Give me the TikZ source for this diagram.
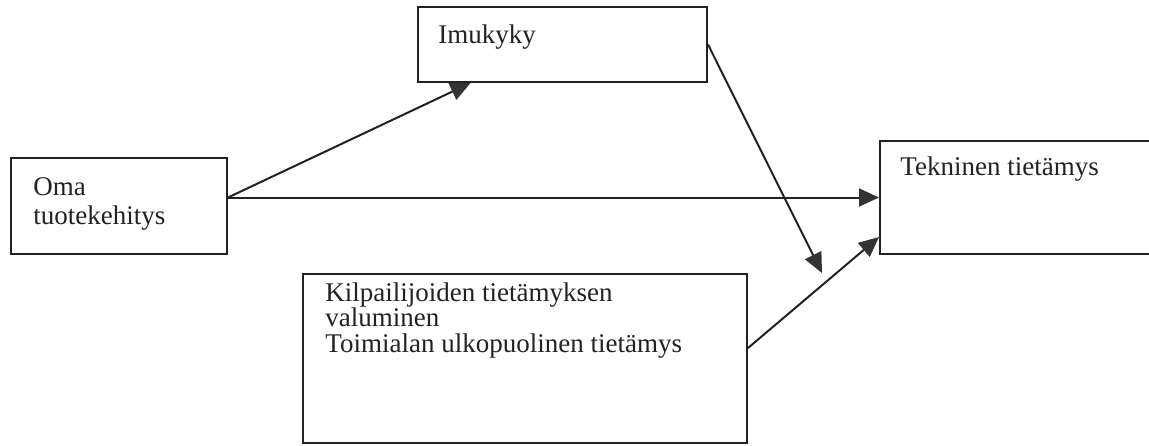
\documentclass[tikz,border=0pt]{standalone}
\usepackage{fontspec}
\setmainfont{Liberation Serif}
\usetikzlibrary{arrows.meta,calc}
\definecolor{ink}{HTML}{222222}
\definecolor{tipfill}{HTML}{333333}
\begin{document}
\begin{tikzpicture}[x=0.5pt,y=-0.5pt,
  box/.style={draw=ink,line width=1pt,fill=white,inner sep=0pt,rectangle},
  label/.style={inner sep=0pt,text=ink,align=left,anchor=base west},
  link/.style={draw=ink,line width=1pt,
    -{Triangle[length=10pt,width=9pt,fill=tipfill,color=tipfill]}},
  every node/.style={font=\fontsize{13.5}{14.5}\selectfont}]
\useasboundingbox (0,0) rectangle (1149,445);

% boxes
\node[box,minimum width=144.5pt,minimum height=37.5pt] (imu) at (562.5,44.5) {};
\node[box,minimum width=108pt,minimum height=48pt] (oma) at (119,206) {};
\node[box,minimum width=139pt,minimum height=56.5pt] (tek) at (1019,197.5) {};
\node[box,minimum width=222pt,minimum height=84.5pt] (kil) at (525,358.5) {};

% texts
\node[label] (imut) at (438,43) {Imukyky};
\node[label] (omat1) at (33,195) {Oma};
\node[label] (omat2) at (33,224) {tuotekehitys};
\node[label] (tekt) at (900,175) {Tekninen tietämys};
\node[label] (kilt1) at (325,301) {Kilpailijoiden tietämyksen};
\node[label] (kilt2) at (325,326) {valuminen};
\node[label] (kilt3) at (325,352) {Toimialan ulkopuolinen tietämys};

% free end of the arrow leaving Imukyky
\coordinate (imuend) at (822,273);

% connectors
\draw[link] (oma.east |- tek.west) -- ([xshift=-46pt]imu.south);
\draw[link] (oma.east |- tek.west) -- (tek.west);
\draw[link] (imu.east) -- (imuend);
\draw[link] ([yshift=5.25pt]kil.east) -- ([yshift=-19.75pt]tek.west);
\end{tikzpicture}
\end{document}
